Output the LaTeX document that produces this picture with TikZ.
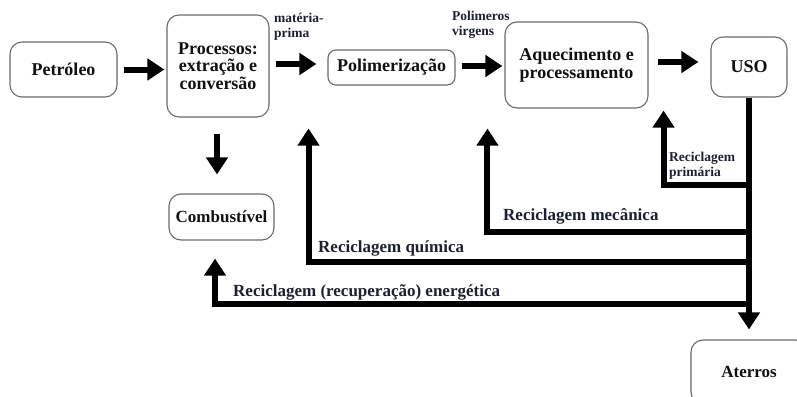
\documentclass[tikz,border=0pt]{standalone}
\usepackage{fontspec}
\setmainfont{Liberation Serif}
\usetikzlibrary{arrows.meta,calc}
\definecolor{txt}{HTML}{111111}
\definecolor{lbltxt}{HTML}{1C2030}
\definecolor{boxline}{HTML}{6A6A6A}
\begin{document}
\begin{tikzpicture}[x=1pt,y=-1pt,
  box/.style={draw=boxline, line width=1.1pt, rounded corners=12pt, align=center,
    inner sep=0pt, text=txt, font=\rmfamily\bfseries\fontsize{18}{17.5}\selectfont},
  arr/.style={line width=6pt, draw=black, -{Triangle[width=21pt,length=17pt]}},
  lbl/.style={font=\rmfamily\bfseries\fontsize{17}{18}\selectfont, anchor=west, inner sep=0pt, text=lbltxt},
  small/.style={font=\rmfamily\bfseries\fontsize{13.5}{15}\selectfont, anchor=west, align=left, inner sep=0pt, text=lbltxt}]
\useasboundingbox (0,0) rectangle (797,396);
\path[clip] (0,0) rectangle (797,396);

% boxes
\node[box, minimum width=107pt, minimum height=55pt] (pet) at (63.5,69.5) {Petróleo};
\node[box, minimum width=102pt, minimum height=102pt] (proc) at (218,66) {Processos:\\extração e\\conversão};
\node[box, rounded corners=8pt, minimum width=127pt, minimum height=35pt] (poli) at (391.5,67.5) {Polimerização};
\node[box, minimum width=143pt, minimum height=86pt] (aq) at (576.5,65) {Aquecimento e\\processamento};
\node[box, minimum width=76pt, minimum height=60pt] (uso) at (749,67) {USO};
\node[box, font=\rmfamily\bfseries\fontsize{17}{17}\selectfont, minimum width=105pt, minimum height=46pt] (comb) at (221.5,217) {Combustível};
\node[box, font=\rmfamily\bfseries\fontsize{17}{17}\selectfont, minimum width=116pt, minimum height=64pt] (ater) at (749,372) {Aterros};

% main flow arrows
\draw[arr] ($(pet.east)+(6,0)$) -- ($(proc.west |- pet.east)+(-2,0)$);
\draw[arr] ($(proc.east |- 0,64)+(6,0)$) -- ($(poli.west |- 0,64)+(-11,0)$);
\draw[arr] ($(poli.east |- 0,66)+(6,0)$) -- ($(aq.west |- 0,66)+(-2,0)$);
\draw[arr] ($(aq.east |- 0,62)+(9,0)$) -- ($(uso.west |- 0,62)+(-12,0)$);
\draw[arr] ($(proc.south)+(-1,16)$) -- ($(proc.south |- comb.north)+(-1,-19)$);

% trunk to Aterros
\draw[arr] (uso.south) -- ($(ater.north)+(0,-10)$);

% recycling branches
\coordinate (b1) at (uso.south |- 0,185);
\coordinate (b2) at (uso.south |- 0,232);
\coordinate (b3) at (uso.south |- 0,262);
\coordinate (b4) at (uso.south |- 0,304);
\draw[arr] (b1) -| ($(aq.south east)+(15,2)$);
\draw[arr] (b2) -| ($(aq.south west)+(-17,20)$);
\draw[arr] (b3) -| ($(proc.east |- aq.south)+(39,20)$);
\draw[arr] (b4) -| ($(comb.south)+(-6.5,18)$);

% labels
\node[small] (lmp) at (274,27) {matéria-\\prima};
\node[small] (lpv) at (452,25) {Polimeros\\virgens};
\node[small] (lrp) at (669,166) {Reciclagem\\primária};
\node[lbl] (lrm) at (503,216) {Reciclagem mecânica};
\node[lbl] (lrq) at (318,248) {Reciclagem química};
\node[lbl] (lre) at (233,292) {Reciclagem (recuperação) energética};
\end{tikzpicture}
\end{document}
